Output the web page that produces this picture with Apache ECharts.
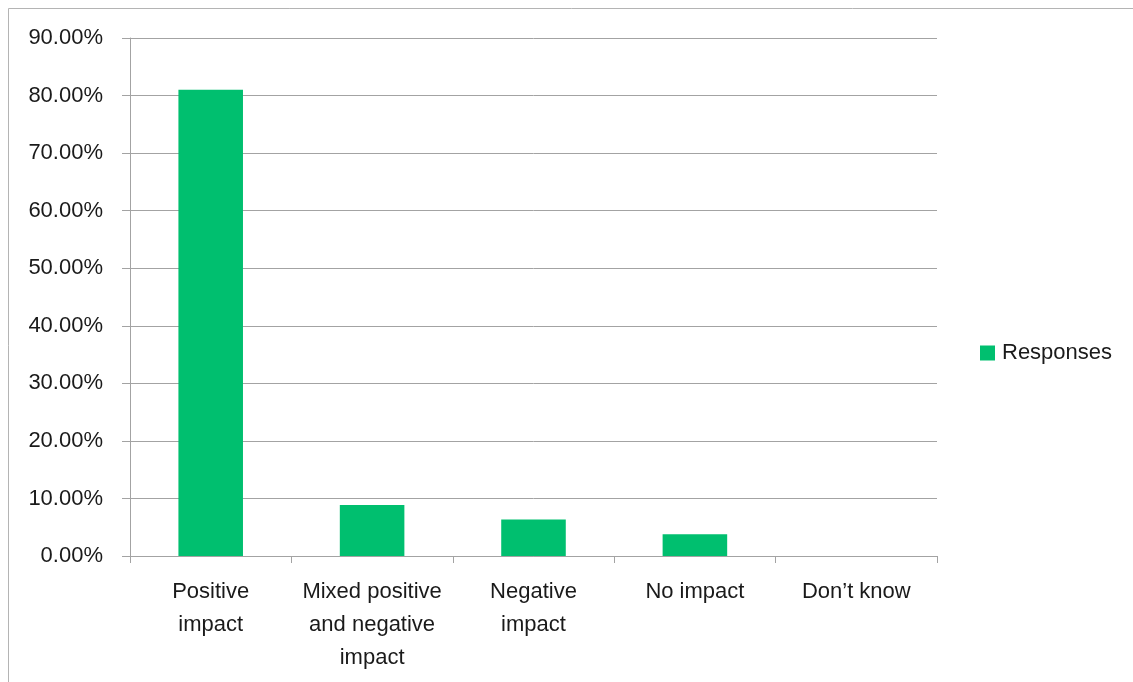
<!DOCTYPE html>
<html>
<head>
<meta charset="utf-8">
<script src="https://cdn.jsdelivr.net/npm/echarts@6/dist/echarts.min.js"></script>
<style>
  html, body { margin: 0; padding: 0; background: #fff; }
  #chart { width: 1133px; height: 682px; }
</style>
</head>
<body>
<div id="chart"></div>
<script>
// Survey answers (share of responses, %)
const categories = [
  'Positive\nimpact',
  'Mixed positive\nand negative\nimpact',
  'Negative\nimpact',
  'No impact',
  'Don\u2019t know'
];
const seriesName = 'Responses';
const responses = [81.01, 8.86, 6.33, 3.80, 0];
const yMin = 0;
const yMax = 90;
const yStep = 10;

const FONT = '"Liberation Sans", Arial, sans-serif';
const GRID_GRAY = '#a3a3a3';
const BAR_GREEN = '#00bf6f';
const TEXT = '#1a1a1a';

const chart = echarts.init(document.getElementById('chart'), null, { renderer: 'canvas' });

chart.setOption({
  backgroundColor: '#ffffff',
  animation: false,
  textStyle: { fontFamily: FONT },
  graphic: [{
    type: 'rect',
    silent: true,
    shape: { x: 8.5, y: 8.5, width: 1300, height: 900 },
    style: { fill: 'none', stroke: '#b4b4b4', lineWidth: 1 }
  }],
  grid: { left: 130, right: 196, top: 38, bottom: 126, containLabel: false },
  legend: {
    data: [seriesName],
    left: 975,
    top: 337,
    orient: 'vertical',
    icon: 'rect',
    itemWidth: 15,
    itemHeight: 15,
    itemGap: 7,
    textStyle: { fontFamily: FONT, fontSize: 22, color: TEXT, padding: [0, 0, 0, 2] }
  },
  xAxis: {
    type: 'category',
    data: categories,
    boundaryGap: true,
    axisLine: { show: true, lineStyle: { color: GRID_GRAY, width: 1 } },
    axisTick: { show: true, length: 7, alignWithLabel: false, lineStyle: { color: GRID_GRAY } },
    axisLabel: {
      interval: 0,
      margin: 19,
      fontFamily: FONT,
      fontSize: 22,
      lineHeight: 33,
      color: TEXT,
      align: 'center'
    },
    splitLine: { show: false }
  },
  yAxis: {
    type: 'value',
    min: yMin,
    max: yMax,
    interval: yStep,
    axisLine: { show: true, lineStyle: { color: GRID_GRAY, width: 1 } },
    axisTick: { show: true, length: 8, lineStyle: { color: GRID_GRAY } },
    axisLabel: {
      margin: 27,
      fontFamily: FONT,
      fontSize: 22,
      color: TEXT,
      formatter: v => v.toFixed(2) + '%'
    },
    splitLine: { show: true, lineStyle: { color: GRID_GRAY, width: 1 } }
  },
  series: [{
    name: seriesName,
    type: 'bar',
    data: responses,
    barWidth: '40%',
    itemStyle: { color: BAR_GREEN }
  }]
});
</script>
</body>
</html>
